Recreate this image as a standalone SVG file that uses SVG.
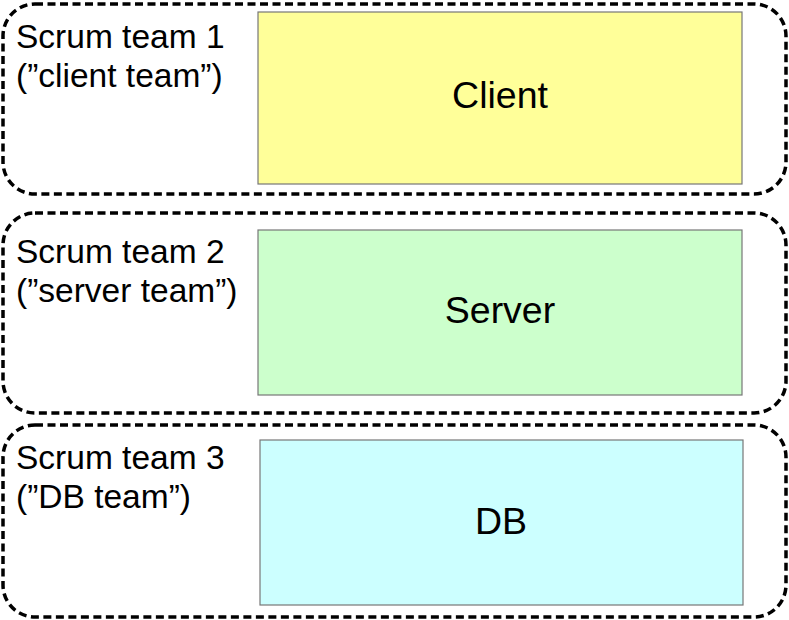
<svg xmlns="http://www.w3.org/2000/svg" width="789" height="620" viewBox="0 0 789 620">
<style>
.team{fill:none;stroke:#000;stroke-width:3.5;stroke-dasharray:8 4.5}
.box{stroke:#777;stroke-width:1.2}
.lbl{font-family:"Liberation Sans",Arial,sans-serif;font-size:33.5px;fill:#000}
.name{font-family:"Liberation Sans",Arial,sans-serif;font-size:37.5px;fill:#000;text-anchor:middle}
</style>
<rect width="789" height="620" fill="#fff"/>
<g id="team1">
<rect class="team" x="3" y="4" width="783" height="190" rx="32"/>
<text class="lbl" x="16" y="48">Scrum team 1</text>
<text class="lbl" x="16" y="87">(”client team”)</text>
</g>
<g id="client">
<rect class="box" x="258" y="12" width="484" height="172" fill="#ffff99"/>
<text class="name" x="500" y="108">Client</text>
</g>
<g id="team2">
<rect class="team" x="3" y="213" width="783" height="200" rx="32"/>
<text class="lbl" x="16" y="263">Scrum team 2</text>
<text class="lbl" x="16" y="302">(”server team”)</text>
</g>
<g id="server">
<rect class="box" x="258" y="230" width="484" height="165" fill="#ccffcc"/>
<text class="name" x="500" y="323">Server</text>
</g>
<g id="team3">
<rect class="team" x="3" y="425" width="783" height="192" rx="32"/>
<text class="lbl" x="16" y="469">Scrum team 3</text>
<text class="lbl" x="16" y="508">(”DB team”)</text>
</g>
<g id="db">
<rect class="box" x="260" y="440" width="483" height="165" fill="#ccffff"/>
<text class="name" x="501" y="534">DB</text>
</g>
<g id="connectors"/>
</svg>
